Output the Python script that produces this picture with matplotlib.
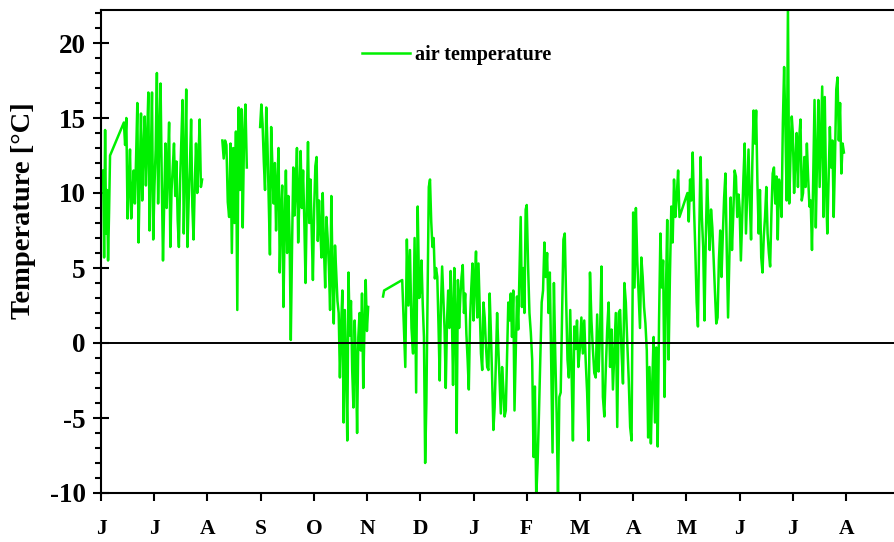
import numpy as np
import matplotlib
matplotlib.use("Agg")
import matplotlib.pyplot as plt
from matplotlib.ticker import MultipleLocator

month_labels = ["J", "J", "A", "S", "O", "N", "D", "J", "F", "M", "A", "M", "J", "J", "A"]

# air temperature [degC]; times are in months counted from 1 June
jun_early = [11.5, 5.7, 14.2, 7.3, 10.2, 5.5, 8.7, 12.5]
jun_jul = [14.7, 13.2, 15.0, 8.3, 10.5, 12.9, 8.3, 9.8, 11.5, 9.3, 12.4, 16.0, 6.7, 11.2, 15.3,
           9.5, 12.8, 15.1, 10.5, 13.6, 16.7, 7.5, 12.0, 16.7, 6.9, 10.4, 12.9, 18.0, 9.3, 13.8,
           17.3, 10.8, 5.5, 9.4, 13.3, 9.0, 11.8, 14.7, 6.4, 10.2, 11.7, 13.3, 9.8, 12.1, 8.2,
           6.4, 10.8, 13.5, 16.2, 7.3, 11.9, 16.9, 6.4, 9.5, 11.7, 14.9, 9.1, 6.9, 10.6, 13.3,
           10.0, 12.2, 14.9, 10.4, 10.9]
aug = [13.5, 12.3, 13.5, 13.2, 9.4, 8.4, 13.3, 6.0, 13.0, 8.0, 14.1, 2.2, 15.7, 10.2, 15.6,
       7.7, 14.0, 15.9, 11.7]
sep_nov = [14.4, 15.9, 14.6, 12.1, 10.2, 15.7, 13.2, 9.5, 5.9, 14.4, 11.8, 9.3, 12.0, 7.5, 10.6,
           13.0, 4.7, 8.8, 10.5, 2.4, 7.9, 11.5, 6.0, 9.8, 7.2, 0.2, 6.4, 11.7, 8.5, 10.3,
           13.0, 6.7, 9.9, 12.8, 9.0, 11.5, 8.1, 4.0, 9.2, 13.4, 8.0, 10.9, 7.5, 4.2, 8.9,
           11.8, 12.4, 6.8, 9.5, 7.6, 5.7, 10.0, 6.3, 3.7, 8.4, 7.0, 5.1, 2.2, 9.8, 4.6,
           1.3, 6.5, 4.7, 2.8, 2.0, -2.3, 1.2, 3.5, -5.3, 2.2, -1.4, -6.5, 4.7, 0.5, 2.8,
           -1.8, -4.3, 1.5, -1.0, -6.0, 0.4, 2.0, -0.5, 3.3, -3.0, 1.1, 4.2, 0.8, 2.4]
nov_a = [3.1, 3.5]
nov_b = [4.2, 1.3, -1.6, 6.9, 2.5, 6.2, 1.0, -0.7, 7.0, -3.3, 9.1, 3.0]
dec = [3.5, 5.5, 2.6, 0.4, -8.0, -4.0, 3.2, 10.4, 10.9, 8.1, 6.4, 7.0, 4.3, 5.0, 4.4, 1.2,
       -2.5, 2.5, 5.1, 3.0, 0.9, -3.0, 1.4, 3.5, 1.0, 4.8, 2.1, -2.8, 5.0, 1.9, -6.0, 4.2,
       1.0, 3.1, 4.4, 5.2, 2.0, 3.3, 0.6, -1.1, -3.1, 1.5, 3.6, 5.3]
jan = [1.5, 4.0, 6.1, 1.7, 5.3, 2.2, -0.7, -1.8, 2.7, 1.7, -0.2, -1.6, -1.8, 3.3, 0.7, -2.4,
       -5.8, -4.3, -1.3, 2.0, -0.4, -2.5, -4.7, -1.6, -3.0, -4.9, -4.5, -0.8, 2.7, 1.5, 3.3,
       0.4, 3.5, -4.5, -0.6, 3.1, 0.9, 4.6, 8.4, 2.4, 5.0, 2.0, 8.9]
feb = [9.2, 5.1, 2.0, 0.7, -1.1, -7.6, -2.9, -10.3, -8.0, -4.7, -1.0, 2.7, 3.5, 6.7, 4.4, 6.0,
       2.0, 4.7, -1.5, -7.3, 4.0, -0.8, -4.7, -10.3, -3.6, -3.3, 1.8, 6.9, 7.3, 2.9, -1.1,
       -2.3, 2.2, -1.9, -6.5, 1.1, -0.4, 1.5, -1.6]
mar = [-0.3, 1.7, -0.7, 1.5, -1.2, -3.3, -6.5, 4.7, 1.5, -0.4, -2.0, -2.3, 1.9, -1.9, 0.6,
       5.1, -3.6, -4.9, -1.8, 0.9, 2.7, -1.6, 0.9, -3.1, -0.5, 2.0, -5.6, 2.0, 2.2, -0.6,
       -2.7, 4.0, 2.7, 0.0, -2.4, -5.6, -6.5]
apr = [8.7, 3.7, 9.0, 5.5, 3.2, 1.0, 5.7, 4.4, 2.4, 1.3, -0.5, -6.3, -1.6, -6.7, -2.7, 0.4,
       -5.3, -0.3, -6.9, 1.5, 7.3, 3.7, 5.5, -3.6, 3.0, 8.2, -1.1, 4.5, 9.1, 6.7, 10.9, 8.4,
       9.8, 11.5, 8.4]
may = [10.0, 8.1, 10.9, 9.5, 12.7, 9.0, 6.2, 2.7, 1.1, 7.4, 12.4, 8.4, 6.4, 1.5, 7.0, 10.9,
       8.4, 6.2, 8.9, 7.7, 5.5, 3.4, 1.3, 1.7, 5.5, 7.5, 4.4, 7.2, 9.7, 11.3, 6.2, 1.7, 5.8,
       9.7, 6.2, 8.6, 11.5, 11.1, 8.4, 9.9]
jun = [9.0, 5.5, 8.2, 11.0, 13.3, 7.3, 10.1, 12.9, 9.5, 6.9, 12.0, 15.5, 13.3, 15.5, 10.7,
       7.3, 10.2, 5.7, 4.7, 7.1, 8.4, 10.4, 7.3, 6.0, 5.1, 8.6, 11.3, 11.7, 9.3, 11.1, 6.9,
       10.9, 10.0, 8.4, 14.7, 18.4, 14.4, 9.5, 22.5, 9.3, 12.4, 15.1]
jul = [14.0, 10.0, 12.1, 14.0, 10.4, 13.7, 14.9, 9.5, 10.0, 12.4, 10.4, 13.3, 11.0, 9.1, 9.5,
       6.2, 11.3, 16.2, 7.7, 12.5, 16.2, 10.4, 13.8, 17.1, 8.4, 16.4, 10.4, 7.3, 11.0, 14.4,
       11.7, 13.5, 8.4, 12.2, 16.9, 17.7, 13.5, 16.0, 11.3, 13.3, 12.7]

# pieces of record (start, end, values); pieces inside one run are joined by the line
runs = [
    [(0.04, 0.17, jun_early), (0.43, 1.90, jun_jul)],
    [(2.28, 2.74, aug)],
    [(2.99, 5.02, sep_nov)],
    [(5.30, 5.32, nov_a), (5.66, 5.98, nov_b),
     (6.0, 6.98, dec), (7.0, 7.98, jan), (8.0, 8.97, feb), (9.0, 9.97, mar),
     (10.0, 10.87, apr), (11.02, 11.98, may), (12.0, 12.98, jun), (13.0, 13.96, jul)],
]

plt.rcParams["font.family"] = ["Liberation Serif", "DejaVu Serif"]
plt.rcParams["font.weight"] = "bold"
plt.rcParams["axes.unicode_minus"] = False

fig = plt.figure(figsize=(8.95, 5.42), dpi=100)
ax = fig.add_axes([101 / 895, 49 / 542, 1 - 101 / 895, 483 / 542])

for i, run in enumerate(runs):
    t = np.concatenate([np.linspace(a, b, len(v)) for a, b, v in run])
    y = np.concatenate([v for a, b, v in run])
    ax.plot(t, y, color="#00f000", lw=1.8, label="air temperature" if i == 0 else None)

ax.axhline(0, color="black", lw=1.4)

ax.set_xlim(0, 14.92)
ax.set_ylim(-10, 22.2)
ax.set_xticks(np.arange(len(month_labels)))
ax.set_xticklabels(month_labels, fontsize=15.5, fontweight="bold")
ax.yaxis.set_major_locator(MultipleLocator(5))
ax.yaxis.set_minor_locator(MultipleLocator(1))
ax.tick_params(axis="x", direction="out", length=6, width=1.5, pad=13)
ax.tick_params(axis="y", which="major", direction="inout", length=12, width=1.5,
               labelsize=19.5, pad=5)
ax.tick_params(axis="y", which="minor", direction="out", length=4, width=1.5)
for lab in ax.get_yticklabels():
    lab.set_fontweight("bold")

for side in ["left", "bottom", "top"]:
    ax.spines[side].set_linewidth(1.5)
ax.spines["right"].set_visible(False)

ax.set_ylabel("Temperature [°C]", fontsize=20.5, fontweight="bold")
ax.yaxis.set_label_coords(-0.082, 0.584)

ax.legend(loc="upper left", bbox_to_anchor=(0.3287, 0.9275), frameon=False,
          borderpad=0, borderaxespad=0, handlelength=2.39, handletextpad=0.25,
          prop={"size": 14.5, "weight": "bold"})

fig.savefig("out.png", dpi=100)
